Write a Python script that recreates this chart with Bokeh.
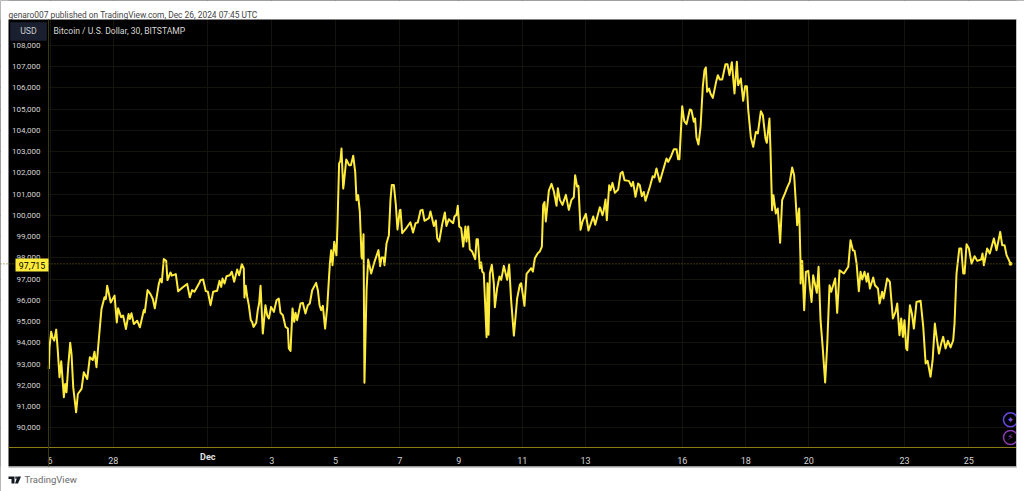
from bokeh.plotting import figure
from bokeh.models import ColumnDataSource, FixedTicker, Label, PolyAnnotation, Range1d, Span, NumeralTickFormatter
from bokeh.core.properties import value
from bokeh.embed import file_html
from bokeh.resources import INLINE

# (hours of trading bars since the "6" tick, BTC/USD price)
nov_a = [(-0.9,92770),(-0.4,93790),(0.9,94520),(1.9,94260),(3.2,94100),(4.7,94620),(5.9,93630),(7.2,92380),(8.5,93130),(10.5,91440),(11.5,92060),(12.5,91670),(13.8,92900),(15.3,94000),(16.3,93470),(17.6,91900),(19.8,90730),(21.1,91590),(23.9,91830),(25.6,92610),(28.2,92300),(30.2,93320),(32.4,93190),(33.7,93580),(35.2,92850),(37,94180),(39,95590),(41.3,96140),(42.3,96060),(43.3,96690),(46,95900),(48.9,96220),(50.6,94960),(51.6,95620),(53.9,95200),(55.4,95280),(57.5,94650),(59.5,95350),(60.5,95120),(61.7,95390),(63.5,94880),(66,95040),(68.1,94730),(71.1,95540),(71.8,95430),(73.9,96480),(76.1,96290),(77.9,96060),(79.4,95620),(82.4,96760),(83.5,97000),(84.7,96840),(86.2,97940),(88,97860),(89,96950),(91.3,97310),(92.3,97160),(95.3,97230),(97.1,96420),(100.6,96610),(103.9,96770),(105.9,96140),(107.7,96480),(109.4,96400),(113.3,96840)]
nov_b = [(114,96950),(116,96980),(118,96430),(119.6,96400),(121.6,95770),(123.6,96400),(126.6,96450),(128.4,96915),(129.7,96630),(130.7,97025),(132.2,96790),(133.7,97135),(136.2,97180),(137.7,97340),(139.5,96870),(141.8,97450),(143.3,97180),(145.3,97700),(146.8,97495),(147.3,96130),(148.3,96680),(149.4,96160),(150.6,95770),(152.1,95065),(153.1,94985),(154.2,94750),(156.2,94940),(157.4,95535),(158.4,95850),(159.5,96680),(161.2,94435),(163.2,95770),(164.5,95300),(165.8,95145),(167.5,95690),(169.6,95455),(171.6,96005),(173.3,96085),(174.6,95410),(176.4,95300),(178.4,94750),(180.2,94670),(180.9,93730),(182.2,93620),(183.7,95615),(185,94985),(186,95410),(187.2,95065),(189.8,95850),(191.5,95880),(193.5,95380),(195.3,95770),(196.8,95850),(198.6,96475),(201.6,96820),(202.9,96475),(204.2,95770),(205.4,95535),(206.7,95740),(208.4,94670),(210,95690),(212,97730),(213,98360),(214,97650),(215.3,98750),(217,98120),(217.8,99610),(219,102435),(220,102560),(220.8,103140),(222.1,101260),(222.6,101495),(224.4,102625),(226.6,102360),(227.9,102360),(229.7,102800),(231.2,102045),(232.2,100710),(233.4,100950),(234.7,100160),(236,98045),(236.5,97965),(237.5,99110),(238.2,92115),(239.8,96475),(241,97920),(243.3,97260),(245.8,97810),(248.8,98360),(250.1,97605),(251.1,98010),(252.6,98010),(253.4,97650),(254.9,98670),(256.7,99065),(257.9,100710),(258.9,101420),(260.5,101420),(262,100475),(263.2,99330),(265,100240)]
dec_a = [(265.5,100255),(266.8,99160),(269.3,99345),(273,99675),(275,99190),(276.9,99630),(278.6,99660),(280.7,100225),(282.2,100255),(283.7,99740),(287,99865),(288.2,100180),(290.8,99500),(292.3,99755),(293.3,98920),(294.8,98765),(297,99550),(299.1,100130),(300.3,99500),(302.1,99815),(305.4,99630),(306.4,99940),(307.9,100020),(308.9,100445),(310,99470),(311.5,99395),(313,98530),(314.7,99470),(315.5,98765),(316.8,99470),(318,98405),(319.8,98295),(322.1,97935),(323.1,98875),(324.1,98875),(325.6,97510),(326.6,97780),(327.4,97355),(328.6,97275),(329.6,95865),(330.7,94265),(331.4,96805),(332.2,94375),(333.2,97275),(334.7,97670),(336.2,96805),(337,95675),(338.7,96570),(340.5,97120),(341.8,96960),(343.8,97620),(346.3,96960),(347.8,97685),(349.3,96020),(351.4,94340),(353.9,96100),(355.9,96725),(356.9,96805),(359.4,95740),(361,97245),(364.5,97510),(365.8,97355),(367.3,97980),(369.5,98215),(371,98295),(372.6,98530),(373.6,100490),(374.6,100620),(375.6,99710),(377.9,101165),(379.9,101480),(381.7,101120),(383.7,100445),(384.7,101275),(386.2,100725),(388.2,100490),(390.8,100960),(393,100255),(395,100725),(396.8,100850),(397.8,101890),(399.3,101355),(400.3,101385),(401.9,99315),(403.4,99710),(405.9,100070),(407.9,99285),(411.5,99940),(413,99550),(415,100020),(416.5,100380)]
dec_b = [(417,100320),(418.5,100005),(419.5,100240),(420.8,100740),(421.8,99770),(423.6,101415),(424.6,101180),(426.1,101525),(427.9,101055),(430.4,101215),(432.2,101965),(433.7,102045),(435.2,101650),(438.5,101620),(440.5,101370),(441.7,101575),(443.5,100870),(445.5,101495),(446.8,101415),(448.3,100900),(449.8,101100),(451.1,100680),(454.4,101340),(456.6,101840),(457.9,101780),(459.4,102200),(461.9,101575),(465,102250),(467,102670),(468.3,102515),(470.5,102780),(472.6,103110),(474.6,103110),(475.8,102640),(476.8,102640),(478.9,105135),(480.4,104445),(482.2,104290),(484.7,104980),(485.9,104945),(487.7,104400),(488.7,104555),(489.7,103660),(491.2,103330),(492.8,104160),(494.5,106045),(495.8,106830),(496.8,106955),(497.8,105810),(499.3,105965),(500.3,105730),(502.1,105525),(504.6,106280),(505.9,106595),(507.4,106390),(509.2,106390),(511.7,107110),(513.2,107110),(514.7,106595),(516.5,107205),(518.5,105730),(520.3,107220),(521.3,106125),(523.3,106435),(525.1,105385),(526.6,106075),(527.9,106075),(528.9,104975),(530.9,103660),(532.7,103220),(534.7,103925),(536.2,103850),(538.5,104900),(540,104710),(542,103610),(543,103410),(545,104555),(545.8,103060),(547,100240),(548,100945),(549.8,100085),(551.3,100320),(553.1,98705),(554.6,100710),(557.2,101100),(558.4,101305),(560.4,101575),(562.2,102250),(563.7,101885),(566,99535),(567.5,100320),(568.5,97885)]
dec_c = [(568.6,96790),(569.8,97855),(571.3,95535),(572.6,97340),(574.4,97385),(575.6,96630),(576.9,95925),(578.1,97180),(579.4,96790),(580.9,96350),(582.2,97575),(583.7,95065),(585.2,93890),(587.2,92130),(588.8,93965),(590.5,96710),(591.8,96400),(594.8,97025),(596.3,95410),(598.1,97415),(601.4,97260),(604.7,97575),(606.4,98830),(608.2,98355),(609.5,98325),(611,97730),(612.7,96430),(614,97340),(615.3,96980),(617,97340),(618.6,96870),(619.6,97260),(621.1,96555),(623.6,97070),(624.9,96710),(627.2,96555),(628.4,95850),(630.4,96400),(631.4,96085),(634.2,97025),(636.2,96870),(638.5,95145),(640.5,95455),(641.8,95850),(643.5,94360),(644.8,95145),(646.1,94280),(647.3,95065),(648.6,93730),(649.4,93650),(651.4,95770),(652.9,95380),(654.4,94670),(656.4,95925),(659.5,95975),(661.5,94750),(663.3,93025),(664.8,93150),(667,92400),(668.6,93180),(670.3,94905),(671.6,94280),(673.4,93495),(675.1,93965),(676.6,94280),(678.4,93730),(680.2,94090),(682.2,93780),(684.2,94120),(685.2,94905),(686.7,97260),(688.8,98435),(690.3,98435),(691.8,97260),(692.8,97260),(694.3,98640),(696.1,98435),(698.1,97730),(700.4,98075),(702.4,97855),(705.4,97920),(706.4,98200),(707.4,97650),(709.9,98435),(711.9,98200),(715,98905),(717,98355),(719.8,99220),(721.3,98595),(723.1,98595),(724.6,98125),(726.4,97890),(727.6,97715)]

tick_hours = [0, 47.9, 119.5, 168, 216.3, 265, 309.7, 357.8, 405.7, 478.9, 527, 574.8, 647.3, 696]
tick_labels = ["6", "28", "Dec", "3", "5", "7", "9", "11", "13", "16", "18", "20", "23", "25"]
price_ticks = list(range(90000, 109000, 1000))
last_price = 97715
title_text = "genaro007 published on TradingView.com, Dec 26, 2024 07:45 UTC"
legend_text = "Bitcoin / U.S. Dollar, 30, BITSTAMP"

pts = nov_a + nov_b + dec_a + dec_b + dec_c
src = ColumnDataSource(dict(h=[a for a, _ in pts], price=[b for _, b in pts]))

FONT = "Roboto"
H_LEFT, H_RIGHT = -37.5, 738.2       # full width of the figure
P_TOP, P_BOTTOM = 110108, 87002      # full height of the figure
H_PANEL_LEFT, H_PANEL_RIGHT = -31.44, 732.2
H_AXIS = -1.14                       # where the price axis stands
P_AXIS = 89096                       # where the time axis stands
P_PANEL_TOP, P_PANEL_BOTTOM = 109214, 88155

p = figure(width=1024, height=491, output_backend="svg", toolbar_location=None,
           x_range=Range1d(H_LEFT, H_RIGHT), y_range=Range1d(P_BOTTOM, P_TOP),
           background_fill_color="#000000", border_fill_color="#ffffff",
           min_border_left=0, min_border_right=0, min_border_top=0, min_border_bottom=0)
p.outline_line_color = None


def poly(xs, ys, level="underlay", **kw):
    p.add_layout(PolyAnnotation(xs=xs, ys=ys, xs_units="canvas", ys_units="canvas", level=level,
                                line_color=kw.pop("line_color", None), **kw))


p.xgrid.level = "image"
p.ygrid.level = "image"
p.xgrid.grid_line_color = "#14140a"
p.ygrid.grid_line_color = "#14140a"

# black strips of the axes, white page around the panel, light edge of the panel
poly([8, 48, 48, 8], [19, 19, 466, 466], fill_color="#000000", fill_alpha=1)
poly([8, 1016, 1016, 8], [447, 447, 466, 466], fill_color="#000000", fill_alpha=1)
poly([0, 1024, 1024, 0], [0, 0, 19, 19], fill_color="#ffffff", fill_alpha=1)
poly([0, 1024, 1024, 0], [466, 466, 491, 491], fill_color="#ffffff", fill_alpha=1)
poly([0, 8, 8, 0], [0, 0, 491, 491], fill_color="#ffffff", fill_alpha=1)
poly([8, 1016.5, 1016.5, 8], [466, 466, 467.2, 467.2], fill_color="#b4b4b4", fill_alpha=1)

ax = p.xaxis[0]
ax.fixed_location = P_AXIS
ax.bounds = (H_PANEL_LEFT, H_PANEL_RIGHT)
ax.ticker = FixedTicker(ticks=tick_hours)
ax.major_label_overrides = {t: ("" if l == "Dec" else l) for t, l in zip(tick_hours, tick_labels)}
ax.major_label_text_color = "#d4d4d4"
ax.major_label_text_font = FONT
ax.major_label_text_font_size = "9px"
ax.major_label_standoff = 4
ax.major_tick_line_color = None
ax.minor_tick_line_color = None
ax.axis_line_color = "#8a7b14"
ax.axis_line_width = 1

ay = p.yaxis[0]
ay.fixed_location = H_AXIS
ay.bounds = (P_PANEL_BOTTOM, P_PANEL_TOP)
ay.ticker = FixedTicker(ticks=price_ticks)
ay.formatter = NumeralTickFormatter(format="0,0")
ay.major_label_text_color = "#d4d4d4"
ay.major_label_text_font = FONT
ay.major_label_text_font_size = "8px"
ay.major_label_standoff = 2
ay.major_tick_line_color = None
ay.minor_tick_line_color = None
ay.axis_line_color = "#3a3a10"

p.add_layout(Span(location=last_price, dimension="width", line_color="#7a6c18", line_width=1, line_dash="1 2"))
p.line("h", "price", source=src, line_color="#FFEB3B", line_width=2, line_join="round")
p.scatter([pts[-1][0]], [pts[-1][1]], size=4, fill_color="#FFEB3B", line_color=None)

# round buttons at the lower right
btn_h = [727.6, 727.6]
btn_p = [90376, 89544]
p.scatter(btn_h, btn_p, size=14, fill_color="#000000", line_color=["#6a48e0", "#8a3cb0"], line_width=1.5)
p.text(btn_h, btn_p, text=["\u2726", "\u26a1"], text_color=["#7a58f0", "#9a48c0"], text_font=value("DejaVu Sans"),
       text_font_size="9px", text_align="center", text_baseline="middle")

# white page and edge over the cut-off side of the buttons
poly([1016, 1024, 1024, 1016], [0, 0, 491, 491], level="annotation", fill_color="#ffffff", fill_alpha=1)
poly([1015.5, 1016.5, 1016.5, 1015.5], [19, 19, 467, 467], level="annotation", fill_color="#c4c4c4", fill_alpha=1)


def label(x, y, text, x_units="canvas", **kw):
    p.add_layout(Label(x=x, y=y, text=text, x_units=x_units, y_units="canvas", text_font=FONT, **kw))


label(8, 14.5, title_text, text_font_size="8.4px", text_color="#454545", text_baseline="alphabetic")
label(53, 30, legend_text, text_font_size="8.6px", text_color="#d8d8d8", text_baseline="middle")
poly([10, 46, 46, 10], [22, 22, 40, 40], level="annotation", fill_color="#1a2030", fill_alpha=1, line_color="#2a3040")
label(28, 30.5, "USD", text_font_size="8.8px", text_color="#c8c8c8", text_align="center", text_baseline="middle")
poly([15, 48, 48, 15], [258, 258, 271, 271], level="annotation", fill_color="#FFEB3B", fill_alpha=1)
label(31.5, 264.5, "97,715", text_font_size="8.8px", text_color="#000000", text_align="center", text_baseline="middle")
label(tick_hours[2], 456, "Dec", x_units="data", text_font_size="9px", text_font_style="bold", text_color="#e0e0e0",
      text_align="center", text_baseline="middle")
label(24, 479, "TradingView", text_font_size="9.5px", text_color="#6a6a6a", text_baseline="middle")

# TradingView mark
poly([8, 14, 14, 11, 11, 8], [476, 476, 483, 483, 478.5, 478.5], level="annotation", fill_color="#131722", fill_alpha=1)
poly([17, 20.5, 17.5, 14.5], [476, 476, 483, 483], level="annotation", fill_color="#131722", fill_alpha=1)
poly([14.8, 16.4, 16.4, 14.8], [476, 476, 478.2, 478.2], level="annotation", fill_color="#131722", fill_alpha=1)

open("out.html", "w").write(file_html(p, INLINE))
